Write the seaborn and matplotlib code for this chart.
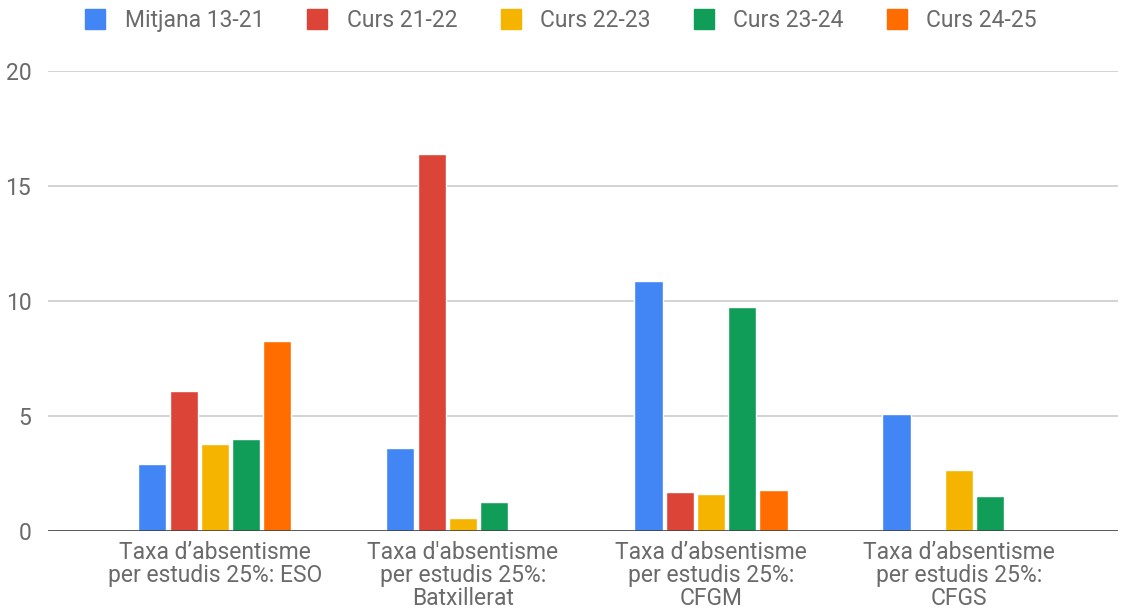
import numpy as np
import pandas as pd
import matplotlib
matplotlib.use('Agg')
import matplotlib.pyplot as plt
import seaborn as sns
from matplotlib.lines import Line2D

# categories and series
categories = ['Taxa d\u2019absentisme\nper estudis 25%: ESO',
              "Taxa d'absentisme\nper estudis 25%:\nBatxillerat",
              'Taxa d\u2019absentisme\nper estudis 25%:\nCFGM',
              'Taxa d\u2019absentisme\nper estudis 25%:\nCFGS']
series = ['Mitjana 13-21', 'Curs 21-22', 'Curs 22-23', 'Curs 23-24', 'Curs 24-25']
mitjana_13_21 = [2.93, 3.61, 10.86, 5.10]
curs_21_22 = [6.08, 16.38, 1.70, np.nan]
curs_22_23 = [3.80, 0.56, 1.62, 2.66]
curs_23_24 = [3.98, 1.26, 9.74, 1.53]
curs_24_25 = [8.26, np.nan, 1.79, np.nan]
palette = ['#4285F4', '#DB4437', '#F4B400', '#0F9D58', '#FF6D01']

values = [mitjana_13_21, curs_21_22, curs_22_23, curs_23_24, curs_24_25]
rows = []
for s, vals in zip(series, values):
    for c, v in zip(categories, vals):
        rows.append({'cat': c, 'serie': s, 'val': v})
df = pd.DataFrame(rows)

sns.set_style('white')
plt.rcParams['font.family'] = ['Roboto', 'DejaVu Sans']
txt = '#6a6a6a'
fs = 16.5

fig = plt.figure(figsize=(11.21, 6.15), dpi=100)
ax = fig.add_axes([0.0428, 0.1366, 0.9545, 0.748])

sns.barplot(data=df, x='cat', y='val', hue='serie', order=categories,
            hue_order=series, palette=palette, width=0.63, gap=0.1,
            saturation=1, ax=ax, legend=False, errorbar=None)

ax.set_ylim(0, 20)
ax.set_xlim(-0.673, 3.641)
ax.set_yticks([0, 5, 10, 15, 20])
ax.yaxis.grid(True, color='#cccccc', lw=1.2)
ax.set_axisbelow(True)
for sp in ax.spines.values():
    sp.set_visible(False)
ax.axhline(0, color='#333333', lw=1.8, zorder=5)
ax.set_xlabel('')
ax.set_ylabel('')
ax.tick_params(axis='both', length=0, labelsize=fs, labelcolor=txt)
ax.tick_params(axis='y', pad=12)
ax.tick_params(axis='x', pad=7)
for lab in ax.get_xticklabels():
    lab.set_linespacing(1.0)

handles = [Line2D([], [], marker='s', ls='', markersize=14, color=c) for c in palette]
fig.legend(handles, series, loc='center', bbox_to_anchor=(0.5, 0.966), ncol=5,
           frameon=False, fontsize=fs, labelcolor=txt, handletextpad=0.8,
           columnspacing=1.8, handlelength=1.0)

fig.savefig('out.png', dpi=100)
